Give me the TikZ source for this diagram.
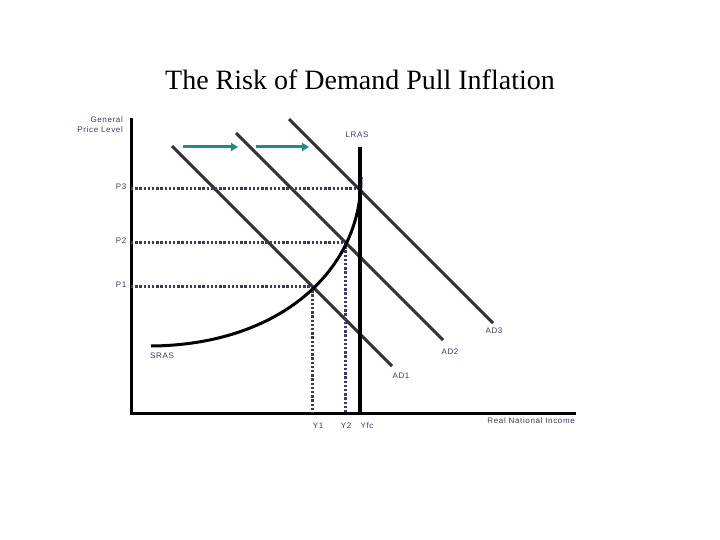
\documentclass[tikz,border=0pt]{standalone}
\usepackage{fontspec}
\setmainfont{Liberation Serif}
\newfontfamily\lblfont[LetterSpace=8]{Liberation Sans}
\usetikzlibrary{arrows.meta}
\definecolor{navy}{HTML}{3A3A66}
\definecolor{adgray}{HTML}{333333}
\definecolor{tealc}{HTML}{1E8C84}
\begin{document}
\begin{tikzpicture}[x=1pt,y=-1pt,
  lbl/.style={font=\lblfont\fontsize{8}{10}\selectfont,text=navy,inner sep=0pt},
  axisline/.style={line width=3pt,black},
  adline/.style={line width=3pt,adgray},
  guide/.style={line width=3pt,navy,dash pattern=on 2.4pt off 1.8pt},
  shiftarrow/.style={line width=3pt,tealc,-{Triangle[length=7pt,width=8pt]}}]
\useasboundingbox (0,0) rectangle (720,540);
% title
\node[font=\fontsize{28}{32}\selectfont] (title) at (360,80) {The Risk of Demand Pull Inflation};
% axes
\coordinate (ytop) at (131,118);
\coordinate (origin) at (131,413);
\coordinate (xend) at (576,413);
\draw[axisline] (ytop) -- (origin) -- (xend);
\node[lbl,align=right,anchor=north east] (gpl) at (123,117) {General\\Price Level};
\node[lbl,anchor=north east] (rni) at (575,418) {Real National Income};
% AD curves
\coordinate (ad1a) at (172,146); \coordinate (ad1b) at (392,366);
\coordinate (ad2a) at (236,133); \coordinate (ad2b) at (443,340);
\coordinate (ad3a) at (289,119); \coordinate (ad3b) at (493,323);
\draw[adline] (ad1a) -- (ad1b);
\draw[adline] (ad2a) -- (ad2b);
\draw[adline] (ad3a) -- (ad3b);
\node[lbl] (ad1) at (401,376) {AD1};
\node[lbl] (ad2) at (450,352) {AD2};
\node[lbl] (ad3) at (494,331) {AD3};
% equilibrium points
\coordinate (e1) at (312,286);
\coordinate (e2) at (345,242);
\coordinate (e3) at (359,189);
% guides
\draw[guide] (131,286) -- (e1);
\draw[guide] (131,242) -- (e2);
\draw[guide] (131,189) -- (e3);
\draw[guide] (e1) -- (312,413);
\draw[guide] (e2) -- (345,413);
\node[lbl] (p1) at (121,285) {P1};
\node[lbl] (p2) at (121,241) {P2};
\node[lbl] (p3) at (121,187) {P3};
\node[lbl] (y1) at (318,426) {Y1};
\node[lbl] (y2) at (346,426) {Y2};
\node[lbl] (yfc) at (367,426) {Yfc};
% LRAS
\coordinate (lrastop) at (360,147);
\coordinate (lrasbot) at (360,413);
\draw[line width=3.4pt,black] (lrastop) -- (lrasbot);
\node[lbl] (lras) at (357,135) {LRAS};
% SRAS
\coordinate (srasa) at (151,346);
\coordinate (srasb) at (361,177);
\draw[line width=3pt,black] (srasa) .. controls (280,345) and (362,270) .. (srasb);
\node[lbl] (sras) at (162,356) {SRAS};
% shift arrows
\coordinate (a1s) at (183,147); \coordinate (a1e) at (238,147);
\coordinate (a2s) at (256,147); \coordinate (a2e) at (309,147);
\draw[shiftarrow] (a1s) -- (a1e);
\draw[shiftarrow] (a2s) -- (a2e);
\end{tikzpicture}
\end{document}
